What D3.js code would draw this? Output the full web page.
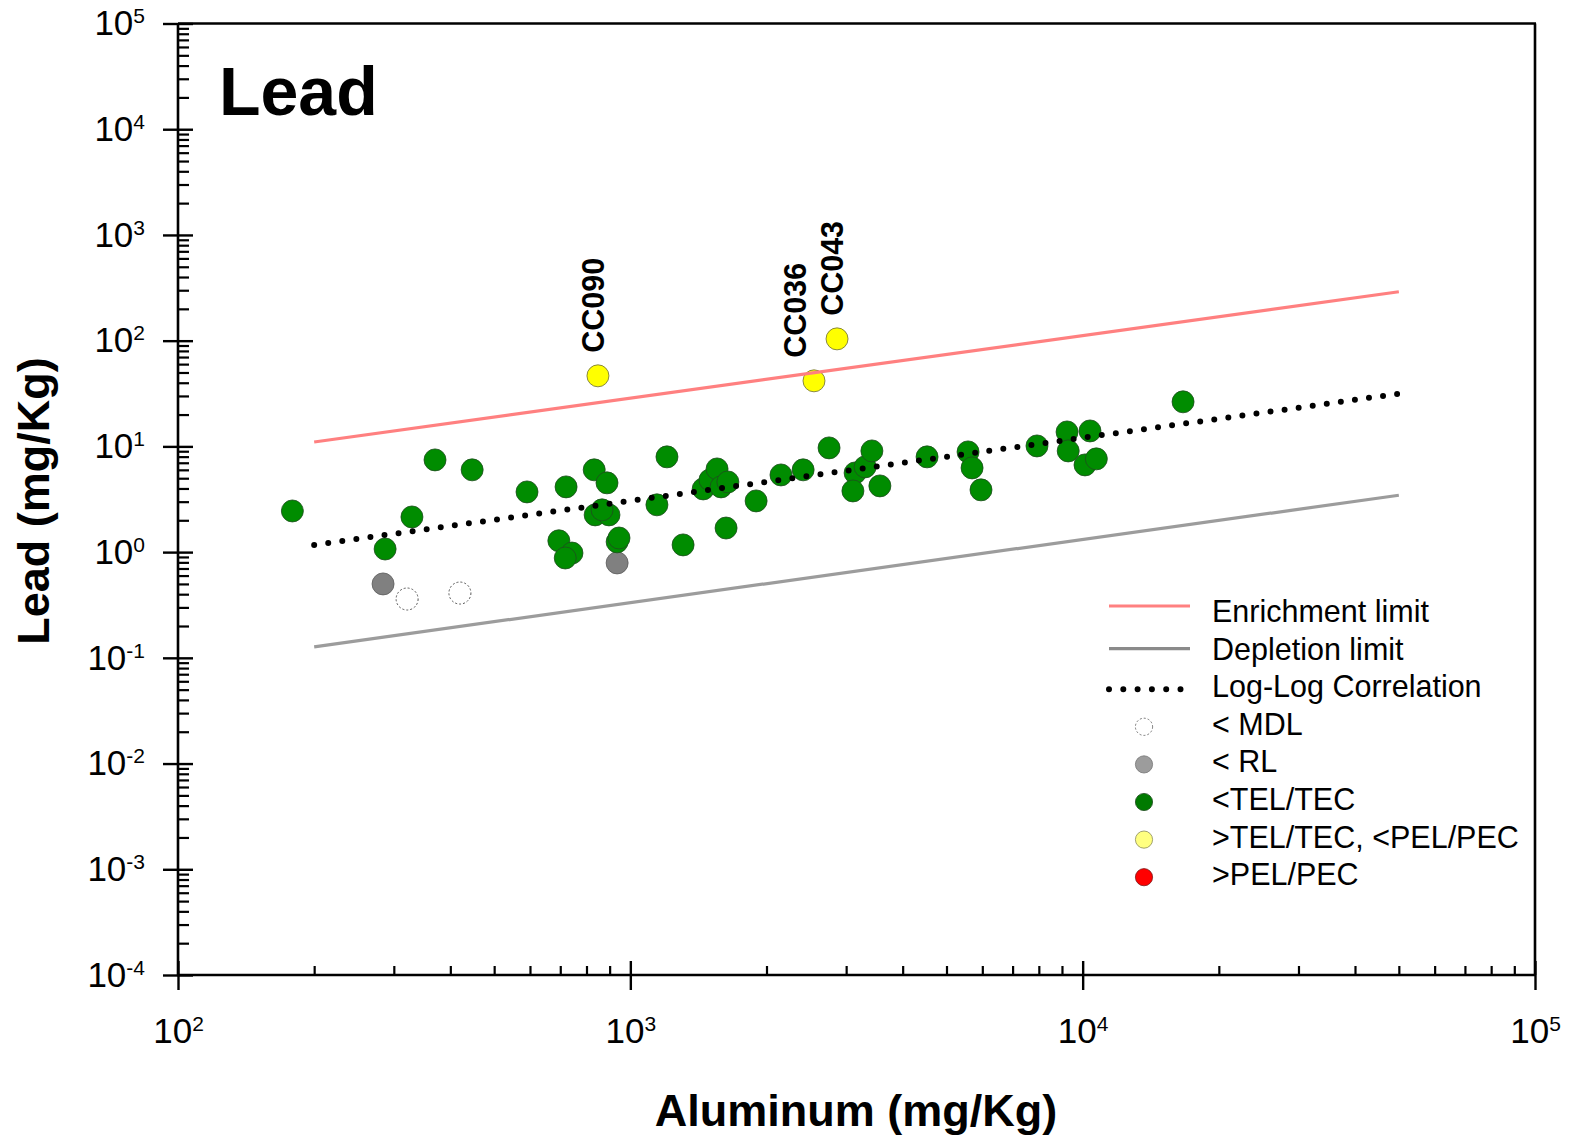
<!DOCTYPE html>
<html>
<head>
<meta charset="utf-8">
<script src="https://cdn.jsdelivr.net/npm/d3@7"></script>
<style>
  html, body { margin: 0; padding: 0; background: #fff; }
  svg { display: block; font-family: "Liberation Sans", Arial, Helvetica, sans-serif; }
</style>
</head>
<body>
<svg id="chart" width="1571" height="1140"></svg>
<script>
// ---- Samples: aluminum vs lead (mg/Kg), grouped by screening class ----
// below TEL/TEC
const tecAl = [179, 287, 329, 370, 447, 591, 721, 832, 888, 836, 897, 866,
               695, 743, 718, 935, 944, 1205, 1145, 1308, 1449, 1500, 1555, 1587,
               1643, 1628, 1897, 2153, 2410, 2750, 3140, 3105, 3304, 3420, 3562,
               4529, 5580, 5695, 5960, 7925, 9236, 9290, 10380, 10120, 10720, 16670];
const tecPb = [2.45, 1.07, 2.15, 7.45, 6.0, 3.71, 4.14, 6.0, 4.52, 2.25, 2.25, 2.51,
               1.28, 0.98, 0.88, 1.25, 1.36, 7.96, 2.80, 1.17, 3.96, 4.82, 6.12, 4.14,
               4.61, 1.69, 3.05, 5.37, 6.0, 9.68, 5.61, 3.79, 6.4, 9.06, 4.23,
               7.96, 8.87, 6.26, 3.88, 10.1, 13.7, 9.06, 14.0, 6.68, 7.62, 26.4];
// below reporting limit
const rlAl = [284, 935];
const rlPb = [0.50, 0.79];
// below method detection limit
const mdlAl = [321, 420];
const mdlPb = [0.36, 0.41];
// above TEL/TEC, below PEL/PEC
const pecAl = [848, 2547, 2864];
const pecPb = [46.5, 41.7, 104];
const pecIds = ["CC090", "CC036", "CC043"];

// ---- Reference lines, given by their end points ----
const lineAl = [200, 50000];
const enrichPb = [11.0, 290];
const depletePb = [0.127, 3.45];
const corrPb = [1.17, 31.5];

// ---- Axis ticks ----
const xMajor = [1e2, 1e3, 1e4, 1e5];
const yMajor = [1e-4, 1e-3, 1e-2, 1e-1, 1e0, 1e1, 1e2, 1e3, 1e4, 1e5];

// ---- Legend ----
const legendLabels = ["Enrichment limit", "Depletion limit", "Log-Log Correlation",
                      "< MDL", "< RL", "<TEL/TEC", ">TEL/TEC, <PEL/PEC", ">PEL/PEC"];

// ---- Layout ----
const L = 178, R = 1535, T = 23.5, B = 975;
const GREEN = "#008c00", GRAY = "#808080", YELLOW = "#ffff00";
const ENRICH = "#ff8080", DEPLETE = "#9c9c9c";
const labelNudgeX = { CC036: -14 };

const svg = d3.select("#chart");

const x = d3.scaleLog().domain([1e2, 1e5]).range([L, R]);
const y = d3.scaleLog().domain([1e-4, 1e5]).range([B, T]);

function minorTicks(lo, hi) {
  const out = [];
  for (let e = lo; e < hi; e++) for (let k = 2; k <= 9; k++) out.push(k * Math.pow(10, e));
  return out;
}

function supLabels(sel, supDy) {
  sel.each(function (d) {
    const t = d3.select(this);
    const e = Math.round(Math.log10(d));
    t.text(null);
    t.append("tspan").text("10");
    t.append("tspan").attr("dy", supDy).attr("font-size", 21).text(e);
  });
}

function styleAxis(g) {
  g.selectAll("path.domain").remove();
  g.selectAll(".tick line").attr("stroke", "#000").attr("stroke-width", 2.4);
}

// ---- Frame ----
svg.append("line").attr("x1", L).attr("x2", R + 1).attr("y1", T).attr("y2", T)
  .attr("stroke", "#000").attr("stroke-width", 2.6);
svg.append("line").attr("x1", R).attr("x2", R).attr("y1", T).attr("y2", B)
  .attr("stroke", "#000").attr("stroke-width", 2.6);
svg.append("line").attr("x1", L).attr("x2", L).attr("y1", T).attr("y2", B + 1)
  .attr("stroke", "#000").attr("stroke-width", 2.6);
svg.append("line").attr("x1", L - 1).attr("x2", R + 1).attr("y1", B).attr("y2", B)
  .attr("stroke", "#000").attr("stroke-width", 2.6);

// ---- Y axis ----
const yOut = svg.append("g").attr("transform", `translate(${L},0)`)
  .call(d3.axisLeft(y).tickValues(yMajor).tickSize(15).tickPadding(18).tickSizeOuter(0));
styleAxis(yOut);
yOut.selectAll(".tick text").attr("font-size", 35).attr("fill", "#000")
  .call(supLabels, -12);

const yIn = svg.append("g").attr("transform", `translate(${L},0)`)
  .call(d3.axisRight(y).tickValues(yMajor).tickSize(15).tickFormat(() => "").tickSizeOuter(0));
styleAxis(yIn);
const yMinor = svg.append("g").attr("transform", `translate(${L},0)`)
  .call(d3.axisRight(y).tickValues(minorTicks(-4, 5)).tickSize(11).tickFormat(() => "").tickSizeOuter(0));
styleAxis(yMinor);
yMinor.selectAll(".tick line").attr("stroke-width", 2.2);

// ---- X axis ----
const xOut = svg.append("g").attr("transform", `translate(0,${B})`)
  .call(d3.axisBottom(x).tickValues(xMajor).tickSize(15).tickPadding(28).tickSizeOuter(0));
styleAxis(xOut);
xOut.selectAll(".tick text").attr("font-size", 35).attr("fill", "#000")
  .call(supLabels, -12);

const xIn = svg.append("g").attr("transform", `translate(0,${B})`)
  .call(d3.axisTop(x).tickValues(xMajor).tickSize(14).tickFormat(() => "").tickSizeOuter(0));
styleAxis(xIn);
const xMinor = svg.append("g").attr("transform", `translate(0,${B})`)
  .call(d3.axisTop(x).tickValues(minorTicks(2, 5)).tickSize(9).tickFormat(() => "").tickSizeOuter(0));
styleAxis(xMinor);
xMinor.selectAll(".tick line").attr("stroke-width", 2.2);

// ---- Axis titles and chart title ----
svg.append("text").attr("x", 856).attr("y", 1126).attr("text-anchor", "middle")
  .attr("font-size", 45).attr("font-weight", "bold").text("Aluminum (mg/Kg)");
svg.append("text").attr("transform", "translate(49,501) rotate(-90)")
  .attr("text-anchor", "middle").attr("font-size", 45).attr("font-weight", "bold")
  .text("Lead (mg/Kg)");
svg.append("text").attr("x", 219).attr("y", 115).attr("font-size", 68)
  .attr("font-weight", "bold").text("Lead");

// ---- Sample points ----
const pts = svg.append("g");
const R_PT = 11;
pts.selectAll("circle.mdl").data(d3.zip(mdlAl, mdlPb)).join("circle")
  .attr("class", "mdl").attr("cx", d => x(d[0])).attr("cy", d => y(d[1])).attr("r", R_PT)
  .attr("fill", "#fff").attr("stroke", "#555").attr("stroke-width", 1)
  .attr("stroke-dasharray", "2,2");
pts.selectAll("circle.rl").data(d3.zip(rlAl, rlPb)).join("circle")
  .attr("class", "rl").attr("cx", d => x(d[0])).attr("cy", d => y(d[1])).attr("r", R_PT)
  .attr("fill", GRAY).attr("stroke", "#5a5a5a").attr("stroke-width", 0.8);
pts.selectAll("circle.tec").data(d3.zip(tecAl, tecPb)).join("circle")
  .attr("class", "tec").attr("cx", d => x(d[0])).attr("cy", d => y(d[1])).attr("r", R_PT)
  .attr("fill", GREEN).attr("stroke", "#1e4d1e").attr("stroke-width", 0.8);
pts.selectAll("circle.pec").data(d3.zip(pecAl, pecPb)).join("circle")
  .attr("class", "pec").attr("cx", d => x(d[0])).attr("cy", d => y(d[1])).attr("r", R_PT)
  .attr("fill", YELLOW).attr("stroke", "#6b6b3a").attr("stroke-width", 0.8);

// sample id labels for the elevated samples
svg.append("g").selectAll("text").data(d3.zip(pecAl, pecPb, pecIds)).join("text")
  .attr("transform", d => `translate(${x(d[0]) + 6 + (labelNudgeX[d[2]] || 0)},${y(d[1]) - 23}) rotate(-90)`)
  .attr("font-size", 30.5).attr("font-weight", "bold").attr("fill", "#000")
  .text(d => d[2]);

// ---- Reference lines ----
const line = d3.line().x(d => x(d[0])).y(d => y(d[1]));
svg.append("path").attr("d", line(d3.zip(lineAl, enrichPb)))
  .attr("fill", "none").attr("stroke", ENRICH).attr("stroke-width", 3.2);
svg.append("path").attr("d", line(d3.zip(lineAl, depletePb)))
  .attr("fill", "none").attr("stroke", DEPLETE).attr("stroke-width", 3.2);
svg.append("path").attr("d", line(d3.zip(lineAl, corrPb)))
  .attr("fill", "none").attr("stroke", "#000").attr("stroke-width", 6)
  .attr("stroke-linecap", "round").attr("stroke-dasharray", "0,14.2");

// ---- Legend ----
const lg = svg.append("g");
const rowY = i => 611 + i * 37.6;
const lx0 = 1109, lx1 = 1190, mx = 1144;
lg.append("line").attr("x1", lx0).attr("x2", lx1).attr("y1", rowY(0) - 5).attr("y2", rowY(0) - 5)
  .attr("stroke", ENRICH).attr("stroke-width", 3.2);
lg.append("line").attr("x1", lx0).attr("x2", lx1).attr("y1", rowY(1)).attr("y2", rowY(1))
  .attr("stroke", "#8a8a8a").attr("stroke-width", 3.2);
lg.append("line").attr("x1", lx0).attr("x2", lx1 - 6).attr("y1", rowY(2) + 3).attr("y2", rowY(2) + 3)
  .attr("stroke", "#000").attr("stroke-width", 6).attr("stroke-linecap", "round")
  .attr("stroke-dasharray", "0,14.3");
const legendMarks = [
  { fill: "#fff", stroke: "#555", dash: "2,2" },
  { fill: "#9c9c9c", stroke: "#777", dash: null },
  { fill: "#007a00", stroke: "#1e4d1e", dash: null },
  { fill: "#ffff80", stroke: "#8a8a5a", dash: null },
  { fill: "#ff0000", stroke: "#7a1a1a", dash: null }
];
lg.selectAll("circle").data(legendMarks).join("circle")
  .attr("cx", mx).attr("cy", (d, i) => rowY(i + 3) + 3).attr("r", 8.6)
  .attr("fill", d => d.fill).attr("stroke", d => d.stroke).attr("stroke-width", 0.8)
  .attr("stroke-dasharray", d => d.dash);
lg.selectAll("text").data(legendLabels).join("text")
  .attr("x", 1212).attr("y", (d, i) => rowY(i) + 11)
  .attr("font-size", 30.5).attr("fill", "#000").text(d => d);
</script>
</body>
</html>
